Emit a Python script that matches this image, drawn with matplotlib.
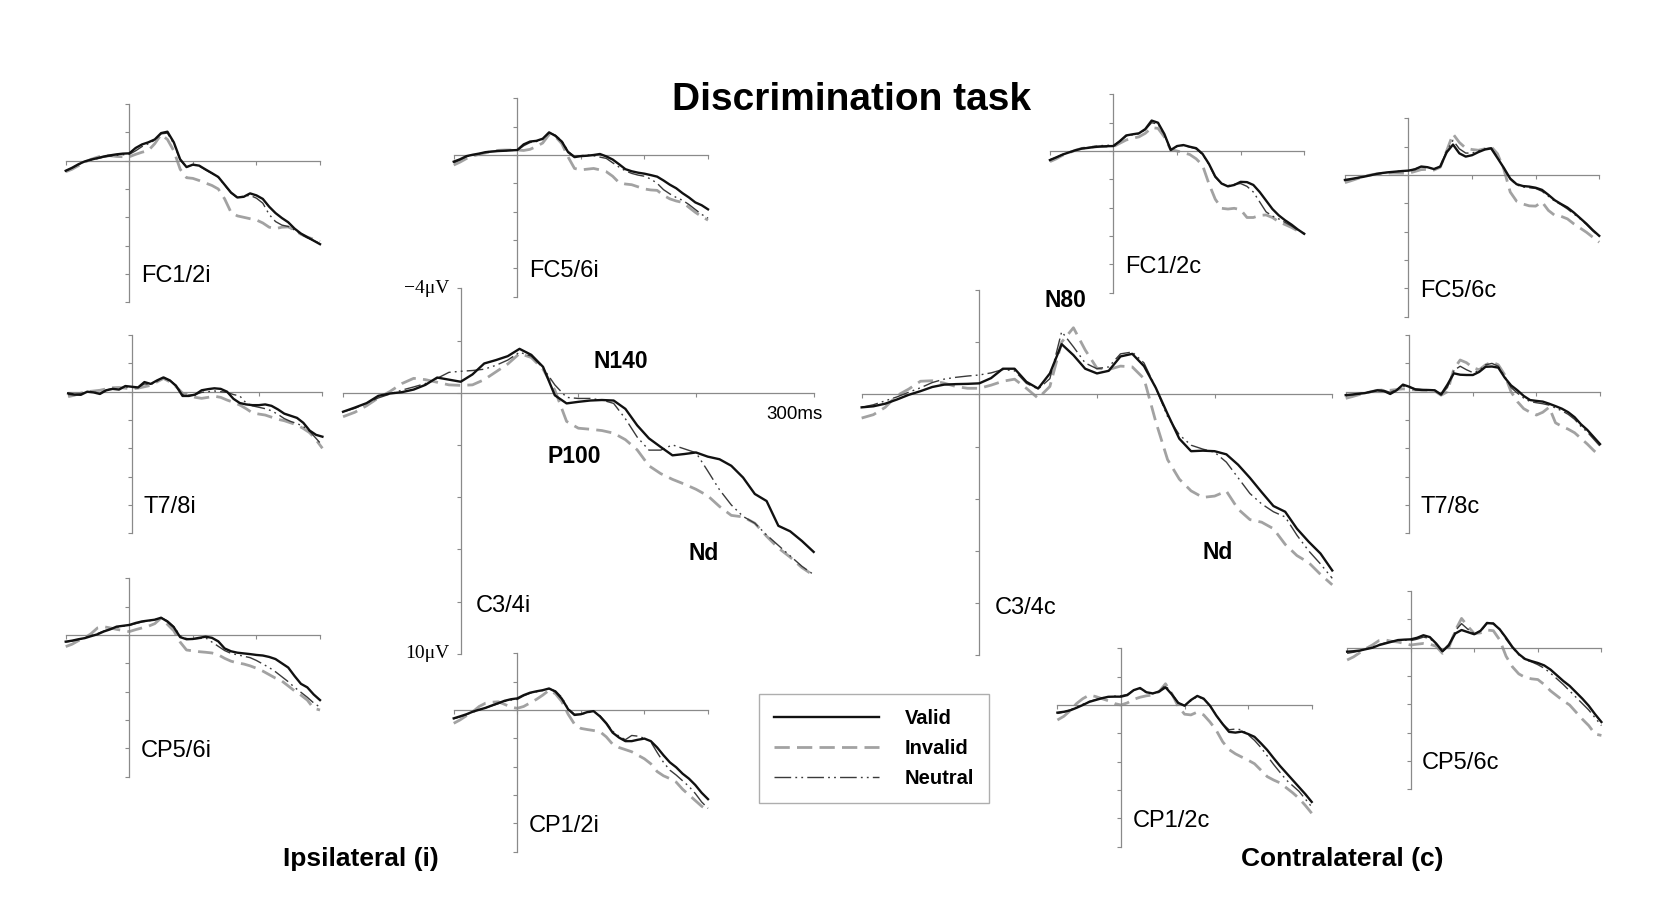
import matplotlib
matplotlib.use("Agg")
import matplotlib.pyplot as plt

plt.rcParams['font.family'] = ['Liberation Sans', 'DejaVu Sans']

# time axis (ms) shared by every waveform
T_MS = list(range(-100, 301, 10))

# voltages in microvolts, negative up
C34I_VALID = [0.73, 0.57, 0.40, 0.12, 0.03, -0.02, -0.12, -0.30, -0.58, -0.50, -0.42, -0.70, -1.12, -1.25, -1.40, -1.68,
              -1.45, -0.99, 0.10, 0.41, 0.35, 0.30, 0.28, 0.30, 0.62, 1.25, 1.75, 2.08, 2.40, 2.35, 2.29, 2.45, 2.55,
              2.80, 3.25, 3.88, 4.15, 5.10, 5.31, 5.68, 6.10]
C34I_INVALID = [0.92, 0.75, 0.50, 0.20, -0.05, -0.35, -0.55, -0.50, -0.40, -0.30, -0.28, -0.30, -0.50, -0.80, -1.10,
                -1.50, -1.35, -0.90, -0.10, 1.10, 1.36, 1.40, 1.45, 1.55, 1.80, 2.19, 2.80, 3.10, 3.32, 3.50, 3.70,
                3.95, 4.36, 4.70, 4.76, 5.00, 5.50, 5.95, 6.30, 6.70, 7.00]
C34I_NEUTRAL = [0.73, 0.60, 0.40, 0.20, 0.05, -0.10, -0.22, -0.35, -0.55, -0.78, -0.82, -0.85, -0.90, -1.05, -1.25,
                -1.55, -1.40, -0.95, -0.30, 0.18, 0.22, 0.22, 0.28, 0.41, 1.00, 1.70, 2.20, 2.20, 2.00, 2.15, 2.30,
                3.00, 3.72, 4.30, 4.74, 5.00, 5.45, 5.85, 6.25, 6.65, 6.97]

C34C_VALID = [0.50, 0.46, 0.36, 0.20, 0.02, -0.12, -0.28, -0.37, -0.39, -0.40, -0.42, -0.62, -0.98, -0.98, -0.48, -0.22,
              -0.80, -1.92, -1.50, -0.98, -0.80, -0.90, -1.45, -1.55, -1.08, -0.25, 0.75, 1.70, 2.18, 2.16, 2.18,
              2.30, 2.70, 3.20, 3.75, 4.28, 4.50, 5.15, 5.65, 6.10, 6.75]
C34C_INVALID = [0.91, 0.78, 0.50, 0.05, -0.20, -0.50, -0.52, -0.43, -0.30, -0.23, -0.23, -0.35, -0.50, -0.58, -0.23,
                0.15, -0.30, -2.00, -2.55, -1.70, -1.00, -0.95, -1.08, -1.05, -0.60, 1.05, 2.50, 3.25, 3.70, 3.95,
                3.90, 3.71, 4.40, 4.80, 4.90, 5.15, 5.75, 6.18, 6.45, 6.90, 7.30]
C34C_NEUTRAL = [0.50, 0.40, 0.25, 0.10, -0.08, -0.25, -0.45, -0.58, -0.65, -0.70, -0.74, -0.82, -0.95, -0.90, -0.42,
                -0.20, -0.60, -2.40, -1.82, -1.20, -0.98, -1.05, -1.55, -1.62, -1.20, -0.25, 0.85, 1.55, 1.95, 2.10,
                2.22, 2.60, 3.20, 3.80, 4.20, 4.50, 4.70, 5.40, 6.00, 6.50, 7.05]

FC12I_VALID = [0.71, 0.50, 0.25, 0.05, -0.08, -0.18, -0.30, -0.38, -0.45, -0.50, -0.52, -0.90, -1.15, -1.30, -1.50,
               -1.95, -2.05, -1.30, -0.10, 0.45, 0.28, 0.35, 0.62, 0.88, 1.15, 1.70, 2.25, 2.60, 2.55, 2.31, 2.45,
               2.70, 3.25, 3.70, 4.05, 4.35, 4.80, 5.15, 5.40, 5.65, 5.90]
FC12I_INVALID = [0.78, 0.60, 0.35, 0.10, -0.10, -0.25, -0.38, -0.35, -0.30, -0.28, -0.28, -0.45, -0.60, -0.72, -1.20,
                 -1.85, -1.50, -0.70, 0.60, 1.20, 1.25, 1.40, 1.58, 1.75, 2.00, 2.70, 3.65, 3.90, 4.00, 4.10, 4.19,
                 4.40, 4.70, 4.80, 4.70, 4.68, 4.90, 5.20, 5.40, 5.55, 5.72]
FC12I_NEUTRAL = [0.72, 0.52, 0.28, 0.08, -0.05, -0.15, -0.25, -0.32, -0.38, -0.42, -0.45, -0.70, -1.00, -1.20, -1.45,
                 -1.90, -1.95, -1.20, -0.05, 0.45, 0.30, 0.38, 0.65, 0.90, 1.18, 1.72, 2.28, 2.62, 2.50, 2.45, 2.65,
                 3.00, 3.80, 4.30, 4.55, 4.65, 4.90, 5.20, 5.45, 5.65, 5.85]

FC56I_VALID = [0.47, 0.30, 0.08, -0.02, -0.10, -0.20, -0.25, -0.28, -0.30, -0.33, -0.35, -0.75, -0.95, -1.00, -1.15,
               -1.60, -1.35, -0.95, -0.20, 0.15, 0.08, 0.05, 0.00, -0.07, 0.10, 0.32, 0.65, 1.00, 1.15, 1.25, 1.32,
               1.42, 1.53, 1.80, 2.10, 2.35, 2.70, 3.00, 3.35, 3.55, 3.84]
FC56I_INVALID = [0.71, 0.50, 0.25, 0.07, -0.05, -0.15, -0.25, -0.33, -0.35, -0.35, -0.35, -0.32, -0.40, -0.60, -0.85,
                 -1.45, -1.30, -0.80, 0.15, 0.95, 1.05, 1.00, 0.95, 1.05, 1.18, 1.50, 1.95, 2.05, 2.10, 2.25, 2.40,
                 2.47, 2.50, 2.85, 3.10, 3.25, 3.35, 3.70, 4.05, 4.35, 4.60]
FC56I_NEUTRAL = [0.55, 0.35, 0.12, 0.00, -0.08, -0.18, -0.23, -0.27, -0.30, -0.32, -0.33, -0.65, -0.88, -0.95, -1.10,
                 -1.58, -1.40, -1.00, -0.25, 0.10, 0.05, 0.00, 0.05, 0.15, 0.24, 0.55, 0.85, 1.12, 1.30, 1.42, 1.50,
                 1.70, 2.00, 2.45, 2.75, 3.00, 3.20, 3.50, 3.85, 4.20, 4.45]

T78I_VALID = [0.12, 0.20, 0.22, 0.00, 0.05, 0.16, -0.10, -0.20, -0.15, -0.40, -0.35, -0.30, -0.68, -0.55, -0.80, -1.01,
              -0.80, -0.40, 0.30, 0.30, 0.20, -0.10, -0.18, -0.24, -0.20, 0.00, 0.50, 0.80, 0.90, 0.95, 0.95, 0.90,
              1.00, 1.25, 1.55, 1.70, 1.85, 2.20, 2.75, 3.05, 3.18]
T78I_INVALID = [0.35, 0.25, 0.10, 0.00, -0.05, -0.10, -0.20, -0.28, -0.30, -0.25, -0.20, -0.25, -0.35, -0.45, -0.70,
                -0.94, -0.70, -0.35, 0.10, 0.25, 0.40, 0.47, 0.40, 0.32, 0.40, 0.59, 0.75, 0.94, 1.20, 1.50, 1.58,
                1.65, 1.80, 1.95, 2.05, 2.20, 2.35, 2.60, 2.90, 3.40, 4.00]
T78I_NEUTRAL = [0.20, 0.22, 0.15, 0.02, 0.03, 0.10, -0.12, -0.22, -0.20, -0.35, -0.30, -0.30, -0.55, -0.50, -0.75,
                -0.98, -0.80, -0.45, 0.20, 0.25, 0.20, 0.05, 0.00, -0.05, 0.00, 0.05, 0.20, 0.30, 0.80, 1.00, 1.10,
                1.20, 1.35, 1.60, 1.90, 2.10, 2.25, 2.45, 2.80, 3.30, 3.80]

CP56I_VALID = [0.47, 0.40, 0.30, 0.22, 0.08, -0.05, -0.25, -0.40, -0.59, -0.65, -0.71, -0.85, -0.96, -1.02, -1.08,
               -1.22, -0.95, -0.55, 0.15, 0.30, 0.28, 0.20, 0.12, 0.20, 0.45, 0.95, 1.15, 1.25, 1.30, 1.35, 1.41,
               1.45, 1.55, 1.70, 2.00, 2.30, 2.90, 3.45, 3.70, 4.20, 4.60]
CP56I_INVALID = [0.82, 0.65, 0.40, 0.20, -0.10, -0.50, -0.58, -0.50, -0.40, -0.32, -0.24, -0.38, -0.50, -0.62, -0.80,
                 -1.20, -0.75, -0.30, 0.50, 1.06, 1.12, 1.18, 1.22, 1.27, 1.40, 1.65, 1.85, 1.97, 2.05, 2.18, 2.35,
                 2.55, 2.80, 3.05, 3.25, 3.60, 3.95, 4.25, 4.60, 5.18, 5.30]
CP56I_NEUTRAL = [0.50, 0.42, 0.32, 0.20, 0.05, -0.10, -0.28, -0.42, -0.55, -0.62, -0.68, -0.80, -0.92, -1.00, -1.08,
                 -1.22, -1.00, -0.60, 0.05, 0.25, 0.28, 0.25, 0.20, 0.50, 0.80, 1.10, 1.30, 1.40, 1.50, 1.60, 1.80,
                 2.05, 2.30, 2.60, 2.95, 3.30, 3.70, 4.05, 4.40, 4.80, 5.10]

CP12I_VALID = [0.59, 0.45, 0.30, 0.12, -0.02, -0.15, -0.32, -0.48, -0.65, -0.76, -0.82, -1.05, -1.22, -1.32, -1.40,
               -1.52, -1.30, -0.80, -0.05, 0.35, 0.30, 0.15, 0.08, 0.45, 0.95, 1.60, 1.95, 2.20, 2.20, 2.10, 2.02,
               2.20, 2.65, 3.20, 3.70, 4.05, 4.50, 4.85, 5.30, 5.85, 6.30]
CP12I_INVALID = [0.94, 0.70, 0.40, 0.12, -0.25, -0.48, -0.55, -0.58, -0.40, -0.20, -0.12, -0.25, -0.50, -0.75, -1.05,
                 -1.40, -1.15, -0.60, 0.30, 1.00, 1.30, 1.38, 1.45, 1.53, 1.90, 2.42, 2.65, 2.80, 2.95, 3.20, 3.45,
                 3.80, 4.35, 4.65, 4.85, 5.10, 5.60, 6.00, 6.40, 6.80, 7.10]
CP12I_NEUTRAL = [0.62, 0.48, 0.32, 0.15, 0.00, -0.15, -0.30, -0.45, -0.60, -0.70, -0.75, -1.00, -1.18, -1.28, -1.38,
                 -1.50, -1.35, -0.90, -0.10, 0.30, 0.30, 0.20, 0.10, 0.40, 0.90, 1.50, 1.85, 2.10, 1.80, 1.85, 2.00,
                 2.25, 3.00, 3.70, 4.25, 4.60, 5.00, 5.40, 5.90, 6.50, 6.95]

FC12C_VALID = [0.64, 0.45, 0.25, 0.10, -0.05, -0.17, -0.22, -0.28, -0.32, -0.34, -0.35, -0.70, -1.10, -1.18, -1.25,
               -1.55, -2.15, -2.00, -1.20, -0.07, -0.35, -0.42, -0.30, -0.20, 0.20, 0.90, 1.80, 2.30, 2.50, 2.40,
               2.18, 2.20, 2.40, 2.90, 3.50, 4.10, 4.55, 4.90, 5.20, 5.55, 5.85]
FC12C_INVALID = [0.75, 0.55, 0.30, 0.12, -0.05, -0.18, -0.25, -0.30, -0.31, -0.31, -0.31, -0.55, -0.78, -0.90, -1.00,
                 -1.25, -1.65, -1.60, -1.00, -0.10, 0.00, 0.12, 0.25, 0.55, 1.00, 2.30, 3.40, 4.05, 4.10, 4.05, 4.15,
                 4.70, 4.70, 4.55, 4.52, 4.70, 5.00, 5.20, 5.40, 5.65, 5.85]
FC12C_NEUTRAL = [0.62, 0.45, 0.25, 0.10, -0.05, -0.18, -0.25, -0.32, -0.38, -0.40, -0.42, -0.68, -1.05, -1.15, -1.22,
                 -1.50, -2.00, -1.90, -1.15, -0.10, -0.32, -0.40, -0.28, -0.15, 0.25, 0.95, 1.85, 2.30, 2.45, 2.35,
                 2.30, 2.50, 2.90, 3.60, 4.30, 4.60, 4.80, 5.05, 5.30, 5.60, 5.85]

FC56C_VALID = [0.35, 0.28, 0.20, 0.12, 0.02, -0.08, -0.15, -0.20, -0.24, -0.28, -0.31, -0.40, -0.60, -0.55, -0.42,
               -0.60, -1.60, -2.15, -1.53, -1.30, -1.40, -1.62, -1.80, -1.88, -1.20, -0.50, 0.25, 0.65, 0.78, 0.82,
               0.90, 1.05, 1.40, 1.78, 2.05, 2.30, 2.65, 3.05, 3.45, 3.90, 4.30]
FC56C_INVALID = [0.54, 0.40, 0.25, 0.10, 0.00, -0.08, -0.12, -0.14, -0.14, -0.13, -0.12, -0.25, -0.38, -0.40, -0.35,
                 -0.55, -1.70, -2.90, -2.30, -1.90, -1.80, -1.75, -1.85, -2.00, -1.50, -0.40, 1.20, 1.85, 2.05, 2.18,
                 2.20, 1.90, 2.50, 2.85, 2.92, 3.10, 3.45, 3.75, 4.05, 4.40, 4.75]
FC56C_NEUTRAL = [0.40, 0.30, 0.20, 0.10, 0.02, -0.08, -0.15, -0.20, -0.25, -0.28, -0.30, -0.42, -0.58, -0.52, -0.42,
                 -0.60, -1.70, -2.45, -1.85, -1.55, -1.55, -1.70, -1.85, -1.92, -1.25, -0.45, 0.30, 0.70, 0.85, 0.90,
                 0.95, 1.15, 1.50, 1.85, 2.10, 2.40, 2.75, 3.10, 3.50, 3.95, 4.35]

T78C_VALID = [0.24, 0.20, 0.15, 0.10, 0.00, -0.10, -0.05, 0.16, -0.10, -0.50, -0.35, -0.15, -0.12, -0.12, -0.10, 0.20,
              -0.50, -1.30, -1.20, -1.18, -1.18, -1.40, -1.76, -1.78, -1.70, -1.00, -0.45, -0.10, 0.30, 0.59, 0.65,
              0.70, 0.85, 1.02, 1.20, 1.45, 1.80, 2.30, 2.70, 3.20, 3.70]
T78C_INVALID = [0.47, 0.35, 0.22, 0.10, 0.00, -0.10, -0.12, -0.10, -0.15, -0.20, -0.15, -0.12, -0.12, -0.10, -0.05,
                0.25, 0.00, -1.60, -2.24, -2.05, -1.70, -1.55, -1.90, -2.10, -1.90, -1.20, 0.00, 0.70, 1.20, 1.45,
                1.65, 1.45, 1.10, 2.20, 2.45, 2.65, 2.90, 3.30, 3.70, 4.15, 4.55]
T78C_NEUTRAL = [0.30, 0.22, 0.15, 0.08, 0.00, -0.08, -0.10, 0.05, -0.15, -0.40, -0.30, -0.20, -0.15, -0.12, -0.08,
                0.22, -0.30, -1.50, -1.80, -1.55, -1.35, -1.50, -1.90, -2.00, -1.80, -1.10, -0.30, 0.10, 0.45, 0.70,
                0.78, 0.85, 0.95, 1.15, 1.35, 1.60, 1.95, 2.45, 2.85, 3.35, 3.85]

CP56C_VALID = [0.28, 0.25, 0.20, 0.10, 0.00, -0.18, -0.30, -0.42, -0.54, -0.57, -0.59, -0.70, -0.88, -0.75, -0.30,
               0.25, -0.20, -1.00, -1.25, -1.10, -0.95, -1.20, -1.75, -1.70, -1.30, -0.70, -0.05, 0.45, 0.80, 0.95,
               1.08, 1.25, 1.55, 1.95, 2.35, 2.70, 3.15, 3.60, 4.10, 4.70, 5.25]
CP56C_INVALID = [0.87, 0.65, 0.35, 0.05, -0.20, -0.50, -0.55, -0.45, -0.40, -0.30, -0.19, -0.25, -0.30, -0.25, -0.10,
                 0.40, 0.00, -1.20, -2.07, -1.50, -1.00, -1.05, -1.25, -1.20, -0.55, 0.60, 1.35, 1.85, 2.10, 2.20,
                 2.25, 2.60, 3.05, 3.40, 3.75, 4.05, 4.55, 5.05, 5.50, 6.10, 6.20]
CP56C_NEUTRAL = [0.40, 0.32, 0.22, 0.10, -0.05, -0.22, -0.35, -0.45, -0.55, -0.55, -0.50, -0.60, -0.75, -0.65, -0.25,
                 0.28, -0.10, -1.20, -1.70, -1.30, -1.00, -1.15, -1.70, -1.75, -1.30, -0.60, 0.00, 0.50, 0.85, 1.00,
                 1.20, 1.45, 1.80, 2.20, 2.60, 3.05, 3.50, 3.95, 4.40, 4.95, 5.50]

CP12C_VALID = [0.54, 0.48, 0.38, 0.20, 0.00, -0.22, -0.35, -0.48, -0.58, -0.59, -0.59, -0.70, -1.05, -1.20, -0.90,
               -0.82, -0.95, -1.25, -0.75, -0.15, 0.05, -0.35, -0.64, -0.45, 0.05, 0.75, 1.35, 1.90, 1.95, 1.88, 2.05,
               2.25, 2.70, 3.18, 3.75, 4.30, 4.80, 5.30, 5.80, 6.30, 6.85]
CP12C_INVALID = [1.06, 0.80, 0.40, -0.10, -0.45, -0.70, -0.60, -0.45, -0.30, -0.10, 0.00, -0.15, -0.40, -0.55, -0.65,
                 -0.71, -0.95, -1.50, -0.80, 0.10, 0.65, 0.70, 0.50, 0.70, 1.20, 1.80, 2.60, 3.15, 3.45, 3.68, 3.90,
                 4.15, 4.60, 5.06, 5.30, 5.50, 5.85, 6.20, 6.60, 7.10, 7.65]
CP12C_NEUTRAL = [0.60, 0.50, 0.35, 0.15, -0.05, -0.25, -0.38, -0.50, -0.58, -0.62, -0.65, -0.75, -1.05, -1.15, -0.88,
                 -0.80, -0.98, -1.40, -0.80, -0.15, 0.05, -0.30, -0.60, -0.42, 0.05, 0.75, 1.35, 1.75, 1.70, 1.75, 2.10,
                 2.50, 3.00, 3.60, 4.20, 4.75, 5.30, 5.70, 6.10, 6.65, 7.20]

CONDITIONS = ["Valid", "Invalid", "Neutral"]
SITE_LABELS = ["FC1/2i", "FC5/6i", "T7/8i", "CP5/6i", "CP1/2i", "C3/4i",
               "C3/4c", "FC1/2c", "FC5/6c", "T7/8c", "CP5/6c", "CP1/2c"]
SITE_DATA = [
    (FC12I_VALID, FC12I_INVALID, FC12I_NEUTRAL),
    (FC56I_VALID, FC56I_INVALID, FC56I_NEUTRAL),
    (T78I_VALID, T78I_INVALID, T78I_NEUTRAL),
    (CP56I_VALID, CP56I_INVALID, CP56I_NEUTRAL),
    (CP12I_VALID, CP12I_INVALID, CP12I_NEUTRAL),
    (C34I_VALID, C34I_INVALID, C34I_NEUTRAL),
    (C34C_VALID, C34C_INVALID, C34C_NEUTRAL),
    (FC12C_VALID, FC12C_INVALID, FC12C_NEUTRAL),
    (FC56C_VALID, FC56C_INVALID, FC56C_NEUTRAL),
    (T78C_VALID, T78C_INVALID, T78C_NEUTRAL),
    (CP56C_VALID, CP56C_INVALID, CP56C_NEUTRAL),
    (CP12C_VALID, CP12C_INVALID, CP12C_NEUTRAL),
]

# layout: pixel position of each panel's origin (0 ms, 0 uV) and whether it is a big panel
W, H = 1681, 898
LAYOUT = [(129.3, 160.7, False), (517.3, 155.0, False), (131.7, 391.7, False), (129.3, 635.0, False),
          (517.3, 710.0, False), (460.7, 392.7, True), (979.3, 394.3, True), (1113.5, 151.0, False),
          (1408.5, 175.0, False), (1409.3, 391.7, False), (1410.7, 647.7, False), (1121.0, 705.0, False)]

STYLES = {
    "Valid": dict(color="#111111", lw=1.7, ls="-", zorder=4),
    "Invalid": dict(color="#a2a2a2", lw=2.0, ls=(0, (5.5, 2.6)), zorder=2),
    "Neutral": dict(color="#3a3a3a", lw=1.0, ls=(0, (12, 3, 1.3, 3, 1.3, 3)), zorder=3),
}

fig = plt.figure(figsize=(W / 100, H / 100), dpi=100)
fig.patch.set_facecolor("white")

axes = []
for label, series, (zx, zy, big) in zip(SITE_LABELS, SITE_DATA, LAYOUT):
    ppm = 1.1765 if big else 0.6357   # pixels per ms
    ppv = 26.1 if big else 14.15      # pixels per microvolt
    left = zx - 100 * ppm
    top = zy - 4 * ppv
    w = 400 * ppm
    h = 14 * ppv
    ax = fig.add_axes([left / W, 1 - (top + h) / H, w / W, h / H])
    ax.patch.set_visible(False)
    ax.set_xlim(-100, 300)
    ax.set_ylim(10, -4)
    for cond in ["Invalid", "Neutral", "Valid"]:
        st = STYLES[cond]
        ax.plot(T_MS, series[CONDITIONS.index(cond)], color=st["color"], lw=st["lw"],
                linestyle=st["ls"], zorder=st["zorder"], label=cond, clip_on=False)
    for s in ["top", "right"]:
        ax.spines[s].set_visible(False)
    ax.spines["left"].set_position(("data", 0))
    ax.spines["bottom"].set_position(("data", 0))
    for s in ["left", "bottom"]:
        ax.spines[s].set_color("#8a8a8a")
        ax.spines[s].set_linewidth(0.9)
    ax.set_xticks([-100, 0, 100, 200, 300])
    ax.set_yticks([-4, -2, 0, 2, 4, 6, 8, 10])
    ax.tick_params(length=3, width=0.8, color="#8a8a8a", direction="out",
                   labelbottom=False, labelleft=False)
    if big:
        ax.text(13, 8.4, label, fontsize=17, va="baseline", ha="left")
    else:
        ax.text(18, 8.6, label, fontsize=17, va="baseline", ha="left")
    axes.append(ax)

ax_ci = axes[SITE_LABELS.index("C3/4i")]
ax_cc = axes[SITE_LABELS.index("C3/4c")]

# scale labels on the ipsilateral central panel
ax_ci.annotate("\u22124\u03bcV", xy=(0, -4), xytext=(-8, 0), textcoords="offset points",
               ha="right", va="center", fontsize=14, family="Liberation Serif")
ax_ci.annotate("10\u03bcV", xy=(0, 10), xytext=(-8, 0), textcoords="offset points",
               ha="right", va="center", fontsize=14, family="Liberation Serif")
ax_ci.text(284, 0.85, "300ms", fontsize=13.5, ha="center", va="center")

# component labels
bold = dict(fontsize=16.5, fontweight="bold", va="baseline", ha="left")
ax_ci.text(113, -0.93, "N140", **bold)
ax_ci.text(74, 2.68, "P100", **bold)
ax_ci.text(194, 6.41, "Nd", **bold)
ax_cc.text(55, -3.36, "N80", **bold)
ax_cc.text(190, 6.32, "Nd", **bold)

fig.text(852 / W, 1 - 110 / H, "Discrimination task", fontsize=28, fontweight="bold",
         ha="center", va="baseline")
fig.text(361 / W, 1 - 866 / H, "Ipsilateral (i)", fontsize=19, fontweight="bold",
         ha="center", va="baseline")
fig.text(1342 / W, 1 - 866 / H, "Contralateral (c)", fontsize=19, fontweight="bold",
         ha="center", va="baseline")

handles, labels = ax_ci.get_legend_handles_labels()
order = [labels.index(c) for c in CONDITIONS]
leg = fig.legend([handles[i] for i in order], [labels[i] for i in order],
                 loc="upper left", bbox_to_anchor=(759 / W, 1 - 694 / H), borderaxespad=0,
                 prop=dict(size=14.5, weight="bold"), handlelength=5.2, handletextpad=1.3,
                 labelspacing=0.55, borderpad=0.75, fancybox=False, frameon=True)
leg.get_frame().set_edgecolor("#9a9a9a")
leg.get_frame().set_linewidth(1.0)

fig.savefig("out.png", dpi=100, facecolor="white")
